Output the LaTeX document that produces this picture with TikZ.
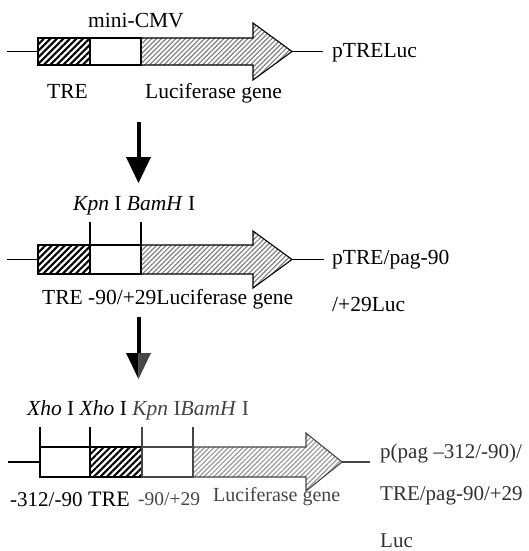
\documentclass[tikz,border=0pt]{standalone}
\usepackage{fontspec}
\setmainfont{Liberation Serif}
\usetikzlibrary{patterns.meta}

\definecolor{softink}{HTML}{454545}
\definecolor{labelink}{HTML}{303030}

\tikzset{
  outline/.style={draw=black, line width=1.1pt, line join=miter},
  trebox/.style={outline, pattern={Lines[angle=45,distance=4.6pt,line width=2.1pt]}, pattern color=black},
  lucbox/.style={outline, pattern={Lines[angle=45,distance=3.4pt,line width=1.2pt]}, pattern color=black!50},
  plainbox/.style={outline, fill=white},
  backbone/.style={line width=1.1pt},
  tick/.style={line width=1.1pt},
  lbl/.style={inner sep=0pt, anchor=base west, font=\fontsize{21.5}{24}\selectfont},
  bigarrow/.style={line width=4pt},
}

\begin{document}
\begin{tikzpicture}[x=1pt,y=-1pt]
\useasboundingbox (0,0) rectangle (528,551);

% ---------- pTRELuc ----------
\coordinate (a0) at (7,51.5);
\coordinate (a1) at (38,51.5);
\coordinate (a2) at (292,51.5);
\coordinate (a3) at (323,51.5);
\draw[backbone] (a0) -- (a1);
\draw[backbone] (a2) -- (a3);
\draw[trebox] (38,38) rectangle (90,65);
\draw[plainbox] (90,38) rectangle (141,65);
\draw[lucbox] (141,38) -- (253,38) -- (253,23) -- (a2) -- (253,80) -- (253,65) -- (141,65) -- cycle;
\node[lbl] (cmv) at (88,28) {mini-CMV};
\node[lbl] (tre1) at (47,98) {TRE};
\node[lbl] (luc1) at (145,98) {Luciferase gene};
\node[lbl] (name1) at (332,58) {pTRELuc};

% ---------- first step ----------
\coordinate (s1a) at (138.5,122);
\coordinate (s1b) at (138.5,158);
\draw[bigarrow] (s1a) -- (s1b);
\fill (126,157) -- (151,157) -- (138.5,183) -- cycle;

% ---------- pTRE/pag-90/+29Luc ----------
\coordinate (b0) at (7,259.5);
\coordinate (b1) at (38,259.5);
\coordinate (b2) at (292,259.5);
\coordinate (b3) at (324,259.5);
\draw[backbone] (b0) -- (b1);
\draw[backbone] (b2) -- (b3);
\draw[tick] (90,222) -- (90,245);
\draw[tick] (141,222) -- (141,245);
\draw[trebox] (38,245) rectangle (90,274);
\draw[plainbox] (90,245) rectangle (141,274);
\draw[lucbox] (141,245) -- (253,245) -- (253,231) -- (b2) -- (253,288) -- (253,274) -- (141,274) -- cycle;
\node[lbl] (sites2) at (73,210) {\textit{Kpn} I \textit{BamH} I};
\node[lbl] (parts2) at (42,304) {TRE -90/+29Luciferase gene};
\node[lbl] (name2a) at (332,264) {pTRE/pag-90};
\node[lbl] (name2b) at (332,311) {/+29Luc};

% ---------- second step ----------
\coordinate (s2a) at (138.5,317);
\coordinate (s2b) at (138.5,354);
\draw[bigarrow] (s2a) -- (s2b);
\fill[black] (126,353) -- (138.5,353) -- (138.5,379) -- cycle;
\fill[black!72] (138.5,353) -- (151,353) -- (138.5,379) -- cycle;

% ---------- p(pag-312/-90)/TRE/pag-90/+29Luc ----------
\coordinate (c0) at (8,462);
\coordinate (c1) at (40,462);
\coordinate (c2) at (342,462);
\coordinate (c3) at (370,462);
\draw[backbone] (c0) -- (c1);
\draw[backbone, softink] (c2) -- (c3);
\draw[plainbox] (40,447) rectangle (90,477);
\draw[trebox] (90,447) rectangle (142,477);
\draw[plainbox, draw=softink] (142,447) rectangle (193,477);
\draw[lucbox, draw=softink, pattern color=black!40] (193,447) -- (306,447) -- (306,433) -- (c2) -- (306,491) -- (306,477) -- (193,477) -- cycle;
\draw[tick] (40,427) -- (40,470);
\draw[tick] (90,427) -- (90,447);
\draw[tick, softink] (142,427) -- (142,447);
\draw[tick, softink] (193,427) -- (193,447);
\node[lbl] (sites3) at (27,415) {\textit{Xho} I \textit{Xho} I {\color{softink}\textit{Kpn} I\textit{BamH} I}};
\node[lbl, font=\fontsize{21}{24}\selectfont] (p312) at (10,506) {-312/-90};
\node[lbl, font=\fontsize{22}{24}\selectfont] (tre3) at (88,506) {TRE};
\node[lbl, text=softink, font=\fontsize{19.5}{24}\selectfont] (p90) at (138,505) {-90/+29};
\node[lbl, text=softink, font=\fontsize{20}{24}\selectfont] (luc3) at (213,501) {Luciferase gene};
\node[lbl, text=labelink, font=\fontsize{21}{24}\selectfont] (name3a) at (380,458) {p(pag –312/-90)/};
\node[lbl, text=labelink, font=\fontsize{21}{24}\selectfont] (name3b) at (380,500) {TRE/pag-90/+29};
\node[lbl, text=labelink, font=\fontsize{21}{24}\selectfont] (name3c) at (380,547) {Luc};
\end{tikzpicture}
\end{document}
